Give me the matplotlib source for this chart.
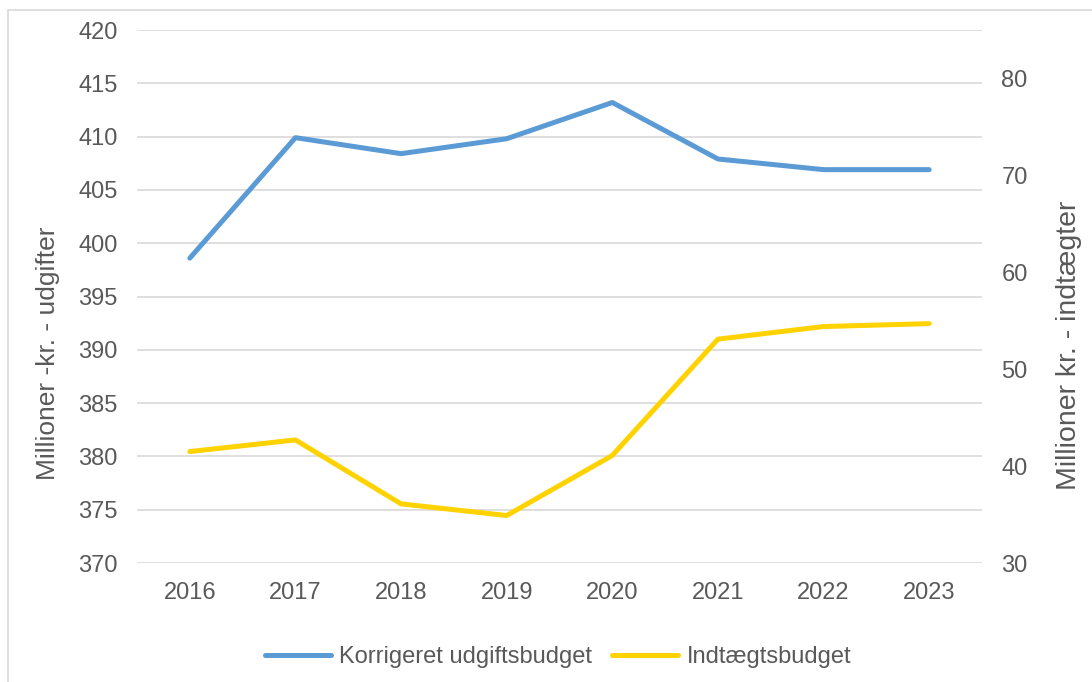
import matplotlib.pyplot as plt
from matplotlib.patches import Rectangle

# - Data
years = ['2016', '2017', '2018', '2019', '2020', '2021', '2022', '2023']
udgifter = [398.6, 409.9, 408.4, 409.8, 413.2, 407.9, 406.9, 406.9]
indtaegter = [41.5, 42.7, 36.1, 34.9, 41.1, 53.1, 54.4, 54.7]

blue = '#5B9BD5'
yellow = '#FFD200'
grey = '#595959'
fs = 17

plt.rcParams['font.family'] = ['Liberation Sans', 'DejaVu Sans']
plt.rcParams['font.size'] = fs

fig = plt.figure(figsize=(10.92, 6.82), dpi=100)
ax = fig.add_axes([137/1092, 1 - 563/682, 845/1092, 533/682])
ax2 = ax.twinx()

x = list(range(len(years)))
l1, = ax.plot(x, udgifter, color=blue, linewidth=3.6, solid_capstyle='round',
              label='Korrigeret udgiftsbudget')
l2, = ax2.plot(x, indtaegter, color=yellow, linewidth=3.6, solid_capstyle='round',
               label='Indtægtsbudget')

ax.set_xlim(-0.5, 7.5)
ax.set_ylim(370, 420)
ax.set_yticks(range(370, 421, 5))
ax2.set_ylim(30, 85)
ax2.set_yticks(range(30, 81, 10))
ax.set_xticks(x)
ax.set_xticklabels(years)

ax.grid(axis='y', color='#D9D9D9', linewidth=1.2)
ax.set_axisbelow(True)
for a in (ax, ax2):
    for s in a.spines.values():
        s.set_visible(False)
    a.tick_params(length=0, colors=grey, labelsize=fs)
ax.tick_params(axis='y', pad=14)
ax2.tick_params(axis='y', pad=14)
ax.tick_params(axis='x', pad=14)

# - Axis titles
fig.text(48/1092, 1 - 353/682, 'Millioner -kr. - udgifter', color=grey,
         fontsize=19, rotation=90, ha='center', va='center')
fig.text(1069/1092, 1 - 345/682, 'Millioner kr. - indtægter', color=grey,
         fontsize=20.5, rotation=90, ha='center', va='center')

fig.legend(handles=[l1, l2], loc='center', bbox_to_anchor=(558/1092, 1 - 657/682),
           ncol=2, frameon=False, fontsize=fs, labelcolor=grey,
           handlelength=2.8, handletextpad=0.35, columnspacing=0.85)

fig.patches.append(Rectangle((8/1092, -0.1), 1.1, 1 - 10/682 + 0.1,
                             transform=fig.transFigure, fill=False,
                             edgecolor='#D9D9D9', linewidth=1.2))

plt.savefig('out.png')
